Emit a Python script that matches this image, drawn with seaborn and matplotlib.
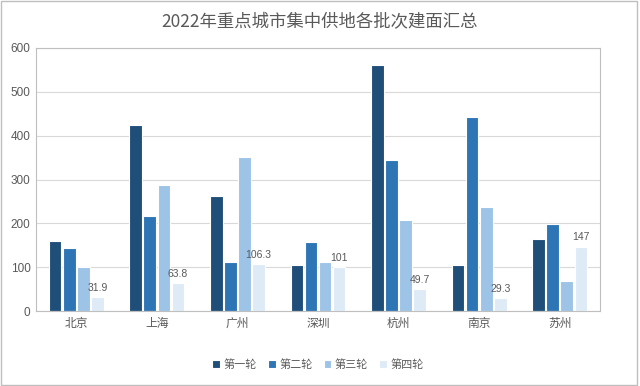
import pandas as pd
import seaborn as sns
import matplotlib.pyplot as plt

# 数据
cities = ['北京', '上海', '广州', '深圳', '杭州', '南京', '苏州']
rounds = ['第一轮', '第二轮', '第三轮', '第四轮']
r1 = [160, 425, 262, 106, 561, 104, 165]
r2 = [144, 216, 112, 158, 344, 443, 198]
r3 = [101, 287, 352, 112, 207, 237, 68]
r4 = [31.9, 63.8, 106.3, 101, 49.7, 29.3, 147]
colors = ['#1F4E79', '#2E75B6', '#9DC3E6', '#DEEBF7']

df = pd.DataFrame({'城市': cities * 4,
                   '轮次': [r for r in rounds for _ in cities],
                   '面积': r1 + r2 + r3 + r4})

sns.set_theme(style='white')
plt.rcParams['font.family'] = ['Noto Sans CJK SC', 'DejaVu Sans']
plt.rcParams['axes.unicode_minus'] = False

fig = plt.figure(figsize=(6.4, 3.86), dpi=100)
ax = fig.add_axes([36 / 640, 1 - 311 / 386, 564 / 640, 263 / 386])

sns.barplot(data=df, x='城市', y='面积', hue='轮次', palette=colors, saturation=1,
            width=0.7, gap=0.1, edgecolor='white', linewidth=0.8,
            legend=True, ax=ax)

# 只给第四轮加标签
ax.bar_label(ax.containers[3], fmt='%g', padding=3, fontsize=7.5,
             color='#595959', fontfamily='Liberation Sans')

ax.set_ylim(0, 600)
ax.set_yticks(range(0, 601, 100))
ax.yaxis.grid(True, color='#D9D9D9', linewidth=0.8)
ax.set_axisbelow(True)
ax.set_xlabel('')
ax.set_ylabel('')
for s in ax.spines.values():
    s.set_color('#BFBFBF')
    s.set_linewidth(0.8)
ax.tick_params(axis='both', length=0, labelsize=8.5, colors='#595959', pad=4)
for t in ax.get_yticklabels():
    t.set_fontfamily('Liberation Sans')

ax.legend(loc='upper center', bbox_to_anchor=(0.5, -0.145), ncol=4, frameon=False,
          fontsize=8, labelcolor='#595959', handlelength=0.7, handleheight=0.7,
          handletextpad=0.3, columnspacing=1.0)

fig.text(0.5, 1 - 22 / 386, '2022年重点城市集中供地各批次建面汇总', ha='center', va='center',
         fontsize=12.5, color='#595959')

fig.patches.append(plt.Rectangle((0.002, 0.003), 0.994, 0.994, transform=fig.transFigure,
                                 fill=False, edgecolor='#BFBFBF', linewidth=1))

fig.savefig('out.png', dpi=100)
